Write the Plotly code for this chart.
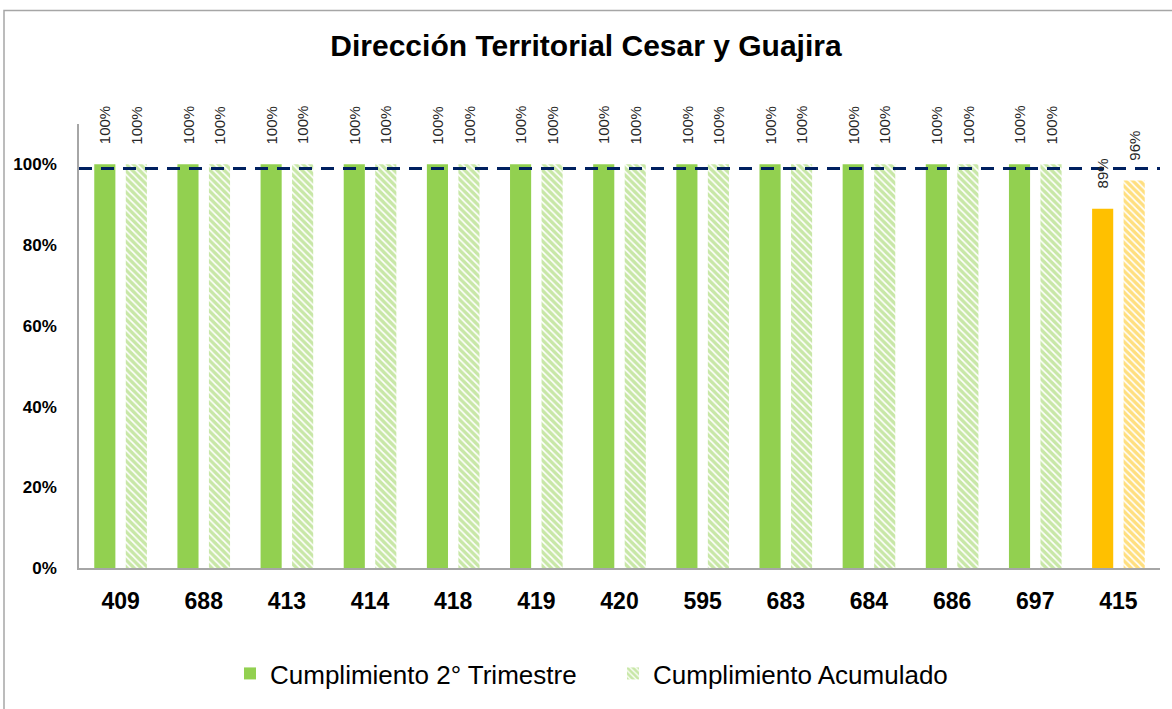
import plotly.graph_objects as go

categories = ["409", "688", "413", "414", "418", "419", "420", "595", "683", "684", "686", "697", "415"]
trimestre = [1.00, 1.00, 1.00, 1.00, 1.00, 1.00, 1.00, 1.00, 1.00, 1.00, 1.00, 1.00, 0.89]
acumulado = [1.00, 1.00, 1.00, 1.00, 1.00, 1.00, 1.00, 1.00, 1.00, 1.00, 1.00, 1.00, 0.96]
meta = 0.99
y_ticks = [0, 0.2, 0.4, 0.6, 0.8, 1.0]

GREEN = "#92D050"
ORANGE = "#FFC000"
NAVY = "#002060"
FONT = "Liberation Sans"

colors = [ORANGE if c == "415" else GREEN for c in categories]

fig = go.Figure()
fig.add_trace(go.Bar(
    x=categories, y=trimestre, name="Cumplimiento 2° Trimestre",
    marker=dict(color=colors, line=dict(width=0)),
))
fig.add_trace(go.Bar(
    x=categories, y=acumulado, name="Cumplimiento Acumulado",
    marker=dict(color="white", line=dict(width=0),
                pattern=dict(shape="\\", fgcolor=colors, bgcolor="white",
                             size=5, solidity=0.68, fillmode="overlay")),
))

for vals, dx in [(trimestre, -15.75), (acumulado, 15.75)]:
    for i, v in enumerate(vals):
        fig.add_annotation(x=i, y=v, text=f"{round(v*100)}%", textangle=-90,
                           showarrow=False, xanchor="center", yanchor="bottom",
                           xshift=dx, yshift=18,
                           font=dict(family=FONT, size=15, color="#262626"))

fig.add_shape(type="line", xref="paper", yref="y", x0=0, x1=1, y0=meta, y1=meta,
              line=dict(color=NAVY, width=3, dash="13px,9px"))

# outer chart frame
fig.add_shape(type="rect", xref="paper", yref="paper",
              x0=(4-79)/1081, x1=(1180-79)/1081, y0=(570-715)/446, y1=(570-10)/446,
              line=dict(color="#A6A6A6", width=1.5), layer="below")

fig.update_layout(
    width=1172, height=709,
    margin=dict(l=79, r=12, t=124, b=139),
    paper_bgcolor="white", plot_bgcolor="white",
    barmode="group", bargap=0.242, bargroupgap=0.33,
    title=dict(text="<b>Dirección Territorial Cesar y Guajira</b>", x=0.5, xanchor="center",
               y=1 - 45/709, yanchor="middle",
               font=dict(family=FONT, size=30, color="black")),
    showlegend=True,
    legend=dict(orientation="h", x=0.494, xanchor="center", y=(570-676)/446, yanchor="middle",
                font=dict(family=FONT, size=26, color="black"),
                entrywidth=338, entrywidthmode="pixels", traceorder="normal"),
    xaxis=dict(type="category", range=[-0.5, len(categories) - 0.5], showline=True,
               linecolor="#A6A6A6", linewidth=1.5,
               ticks="", tickfont=dict(family=FONT, size=23, color="black", weight="bold"),
               showgrid=False, ticklabelstandoff=12),
    yaxis=dict(range=[0, 1.1], tickvals=y_ticks, tickformat=".0%", showline=True,
               linecolor="#A6A6A6", linewidth=1.5, ticks="", showgrid=False, zeroline=False,
               tickfont=dict(family=FONT, size=17, color="black", weight="bold"), ticklabelstandoff=17),
)

fig.write_html("out.html", config={"displayModeBar": False},
               post_script="document.body.style.margin='0px';")
